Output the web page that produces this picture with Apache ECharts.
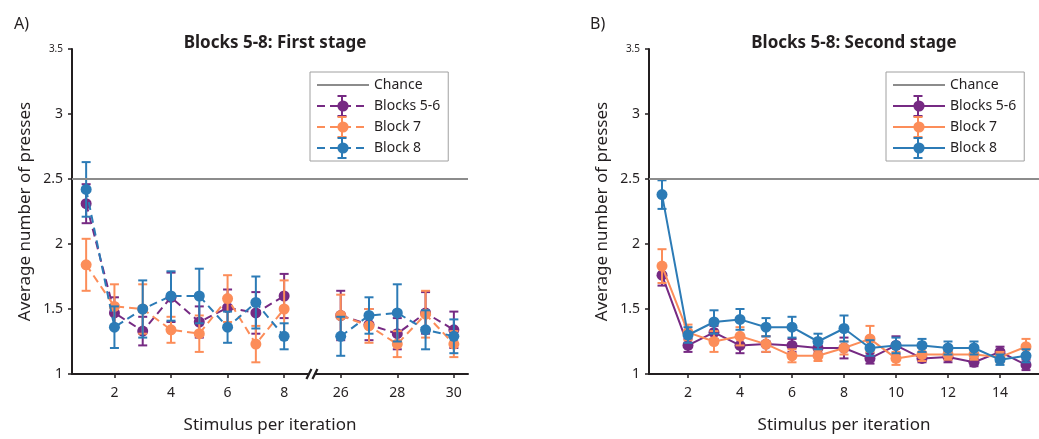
<!DOCTYPE html>
<html>
<head>
<meta charset="utf-8">
<script src="https://cdn.jsdelivr.net/npm/echarts@6/dist/echarts.min.js"></script>
<style>
html,body{margin:0;padding:0;background:#fff;}
#c{width:1039px;height:439px;}
</style>
</head>
<body>
<div id="c"></div>
<script>
// ---------- DATA ----------
// Panel A: first stage (category slot 9 is the axis break)
const catsA = ['1','2','3','4','5','6','7','8','','26','27','28','29','30'];
const purpleA    = [2.31, 1.47, 1.33, 1.59, 1.40, 1.51, 1.47, 1.60, null, 1.45, 1.38, 1.31, 1.47, 1.34];
const purpleAErr = [0.15, 0.12, 0.11, 0.19, 0.12, 0.14, 0.16, 0.17, null, 0.19, 0.12, 0.12, 0.16, 0.14];
const orangeA    = [1.84, 1.52, 1.50, 1.34, 1.31, 1.58, 1.23, 1.50, null, 1.45, 1.37, 1.23, 1.46, 1.23];
const orangeAErr = [0.20, 0.17, 0.19, 0.10, 0.14, 0.18, 0.14, 0.22, null, 0.16, 0.13, 0.10, 0.18, 0.10];
const blueA      = [2.42, 1.36, 1.50, 1.60, 1.60, 1.36, 1.55, 1.29, null, 1.29, 1.45, 1.47, 1.34, 1.29];
const blueAErr   = [0.21, 0.16, 0.22, 0.19, 0.21, 0.12, 0.20, 0.10, null, 0.15, 0.14, 0.22, 0.15, 0.13];

// Panel B: second stage
const catsB = ['1','2','3','4','5','6','7','8','9','10','11','12','13','14','15'];
const purpleB    = [1.76, 1.22, 1.32, 1.22, 1.23, 1.22, 1.20, 1.20, 1.12, 1.22, 1.12, 1.13, 1.09, 1.17, 1.07];
const purpleBErr = [0.08, 0.05, 0.05, 0.06, 0.06, 0.05, 0.04, 0.08, 0.04, 0.07, 0.03, 0.04, 0.03, 0.04, 0.04];
const orangeB    = [1.83, 1.32, 1.25, 1.29, 1.23, 1.14, 1.14, 1.20, 1.27, 1.12, 1.15, 1.15, 1.15, 1.13, 1.21];
const orangeBErr = [0.13, 0.06, 0.08, 0.07, 0.06, 0.05, 0.04, 0.05, 0.10, 0.05, 0.05, 0.04, 0.04, 0.04, 0.06];
const blueB      = [2.38, 1.30, 1.40, 1.42, 1.36, 1.36, 1.25, 1.35, 1.20, 1.22, 1.22, 1.20, 1.20, 1.11, 1.14];
const blueBErr   = [0.11, 0.06, 0.09, 0.08, 0.07, 0.08, 0.06, 0.10, 0.06, 0.06, 0.05, 0.05, 0.05, 0.04, 0.05];

const chanceLevel = 2.5;
const seriesNames = ['Blocks 5-6', 'Block 7', 'Block 8'];
const titles = ['Blocks 5-8: First stage', 'Blocks 5-8: Second stage'];
const panelLabels = ['A)', 'B)'];
const yTicks = {min: 1, max: 3.5, interval: 0.5};

// ---------- STYLE ----------
const COLORS = ['#762a83', '#fc8d59', '#2c7bb6'];
const FONT = 'Noto Sans';
const TXT = '#231f20';
const GRID = [{left: 72, top: 49, width: 396, height: 330}, {left: 649, top: 49, width: 396, height: 330}];

function errData(vals, errs) {
  const out = [];
  vals.forEach((v, i) => { if (v != null) out.push([i, v - errs[i], v + errs[i]]); });
  return out;
}
function errSeries(idx, vals, errs, color, z) {
  return {
    type: 'custom', xAxisIndex: idx, yAxisIndex: idx, z: z, silent: true,
    encode: {x: 0, y: [1, 2]},
    data: errData(vals, errs),
    renderItem: function (params, api) {
      const x = api.value(0);
      const top = api.coord([x, api.value(2)]);
      const bot = api.coord([x, api.value(1)]);
      const w = 4.5;
      const st = {stroke: color, lineWidth: 2, fill: null};
      return {type: 'group', children: [
        {type: 'line', shape: {x1: top[0], y1: top[1], x2: bot[0], y2: bot[1]}, style: st},
        {type: 'line', shape: {x1: top[0] - w, y1: top[1], x2: top[0] + w, y2: top[1]}, style: st},
        {type: 'line', shape: {x1: bot[0] - w, y1: bot[1], x2: bot[0] + w, y2: bot[1]}, style: st}
      ]};
    }
  };
}
function lineSeries(idx, name, vals, color, dashed, z) {
  return {
    type: 'line', name: name, xAxisIndex: idx, yAxisIndex: idx, z: z,
    data: vals, connectNulls: false,
    symbol: 'circle', symbolSize: 11, showSymbol: true,
    itemStyle: {color: color},
    lineStyle: {color: color, width: 2, type: dashed ? [8, 5] : 'solid'},
    emphasis: {disabled: true}, animation: false
  };
}
function chanceSeries(idx, name) {
  return {
    type: 'line', name: name, xAxisIndex: idx, yAxisIndex: idx, z: 1,
    data: [], symbol: 'none', itemStyle: {color: '#8c8c8c'},
    lineStyle: {color: '#8c8c8c', width: 2},
    markLine: {silent: true, symbol: ['none', 'none'], label: {show: false},
      lineStyle: {color: '#8c8c8c', width: 2.2, type: 'solid'},
      data: [{yAxis: chanceLevel}], animation: false}
  };
}
function xAxis(idx, cats) {
  return {
    type: 'category', gridIndex: idx, data: cats, boundaryGap: true,
    axisLine: {lineStyle: {color: TXT, width: 2}},
    axisTick: {show: true, alignWithLabel: true, interval: (i) => i % 2 === 1, length: 4, inside: false, lineStyle: {color: TXT, width: 1.5}},
    axisLabel: {interval: (i) => i % 2 === 1, fontFamily: FONT, fontSize: 14, color: TXT, margin: 12},
    name: 'Stimulus per iteration', nameLocation: 'middle', nameGap: 43,
    nameTextStyle: {fontFamily: FONT, fontSize: 17, color: TXT}
  };
}
function yAxis(idx) {
  return {
    type: 'value', gridIndex: idx, min: yTicks.min, max: yTicks.max, interval: yTicks.interval,
    splitLine: {show: false},
    axisLine: {show: true, lineStyle: {color: TXT, width: 2}},
    axisTick: {show: true, length: 4, lineStyle: {color: TXT, width: 1.5}},
    axisLabel: {fontFamily: FONT, fontSize: 14, color: TXT, margin: 9,
      formatter: (v) => v === yTicks.max ? '{s|' + v + '}' : String(v),
      rich: {s: {fontFamily: FONT, fontSize: 10, color: TXT}}},
    name: 'Average number of presses', nameLocation: 'middle', nameGap: 38, nameRotate: 90,
    nameTextStyle: {fontFamily: FONT, fontSize: 17, color: TXT}
  };
}

const namesB = seriesNames.map(n => n + ' ');
const legendBase = {
  orient: 'vertical', top: 72, itemWidth: 52, itemHeight: 14, itemGap: 7,
  padding: [6, 8, 6, 6], borderColor: '#a0a0a0', borderWidth: 1, backgroundColor: '#fff',
  textStyle: {fontFamily: FONT, fontSize: 14, color: TXT}, selectedMode: false,
  formatter: (n) => n.trim()
};

const option = {
  animation: false,
  grid: GRID,
  title: [
    {text: titles[0], left: 270, top: 30, textAlign: 'center', textStyle: {fontFamily: FONT, fontSize: 17, fontWeight: 'bold', color: TXT}},
    {text: titles[1], left: 849, top: 30, textAlign: 'center', textStyle: {fontFamily: FONT, fontSize: 17, fontWeight: 'bold', color: TXT}},
    {text: panelLabels[0], left: 9, top: 11, textStyle: {fontFamily: FONT, fontSize: 16, fontWeight: 'normal', color: TXT}},
    {text: panelLabels[1], left: 585, top: 11, textStyle: {fontFamily: FONT, fontSize: 16, fontWeight: 'normal', color: TXT}}
  ],
  legend: [
    Object.assign({}, legendBase, {left: 310, data: [{name: 'Chance', itemStyle: {opacity: 0}}].concat(seriesNames)}),
    Object.assign({}, legendBase, {left: 886, data: [{name: 'Chance ', itemStyle: {opacity: 0}}].concat(namesB)})
  ],
  xAxis: [xAxis(0, catsA), xAxis(1, catsB)],
  yAxis: [yAxis(0), yAxis(1)],
  series: [
    chanceSeries(0, 'Chance'),
    errSeries(0, purpleA, purpleAErr, COLORS[0], 2),
    lineSeries(0, seriesNames[0], purpleA, COLORS[0], true, 2),
    errSeries(0, orangeA, orangeAErr, COLORS[1], 3),
    lineSeries(0, seriesNames[1], orangeA, COLORS[1], true, 3),
    errSeries(0, blueA, blueAErr, COLORS[2], 4),
    lineSeries(0, seriesNames[2], blueA, COLORS[2], true, 4),
    chanceSeries(1, 'Chance '),
    errSeries(1, purpleB, purpleBErr, COLORS[0], 2),
    lineSeries(1, namesB[0], purpleB, COLORS[0], false, 2),
    errSeries(1, orangeB, orangeBErr, COLORS[1], 3),
    lineSeries(1, namesB[1], orangeB, COLORS[1], false, 3),
    errSeries(1, blueB, blueBErr, COLORS[2], 4),
    lineSeries(1, namesB[2], blueB, COLORS[2], false, 4)
  ]
};

const chart = echarts.init(document.getElementById('c'), null, {renderer: 'canvas'});
chart.setOption(option);

// Decorations: axis break marker and error-bar glyphs in legends
const g = [];
const bx = chart.convertToPixel({xAxisIndex: 0}, 8);
const by = chart.convertToPixel({yAxisIndex: 0}, yTicks.min);
g.push({type: 'rect', shape: {x: bx - 4, y: by - 3, width: 7, height: 6}, style: {fill: '#fff'}, z: 100});
[-3.5, 2.5].forEach(dx => g.push({type: 'line', shape: {x1: bx + dx - 2.5, y1: by + 5, x2: bx + dx + 2.5, y2: by - 5}, style: {stroke: TXT, lineWidth: 2.2}, z: 101}));
[310, 886].forEach(lx => {
  for (let k = 0; k < 3; k++) {
    const cx = lx + 6 + 26, cy = 72 + 6 + 7 + (k + 1) * 21;
    const st = {stroke: COLORS[k], lineWidth: 2};
    g.push({type: 'line', shape: {x1: cx, y1: cy - 10, x2: cx, y2: cy + 10}, style: st, z: 100});
    g.push({type: 'line', shape: {x1: cx - 4.5, y1: cy - 10, x2: cx + 4.5, y2: cy - 10}, style: st, z: 100});
    g.push({type: 'line', shape: {x1: cx - 4.5, y1: cy + 10, x2: cx + 4.5, y2: cy + 10}, style: st, z: 100});
  }
});
chart.setOption({graphic: g});
</script>
</body>
</html>
